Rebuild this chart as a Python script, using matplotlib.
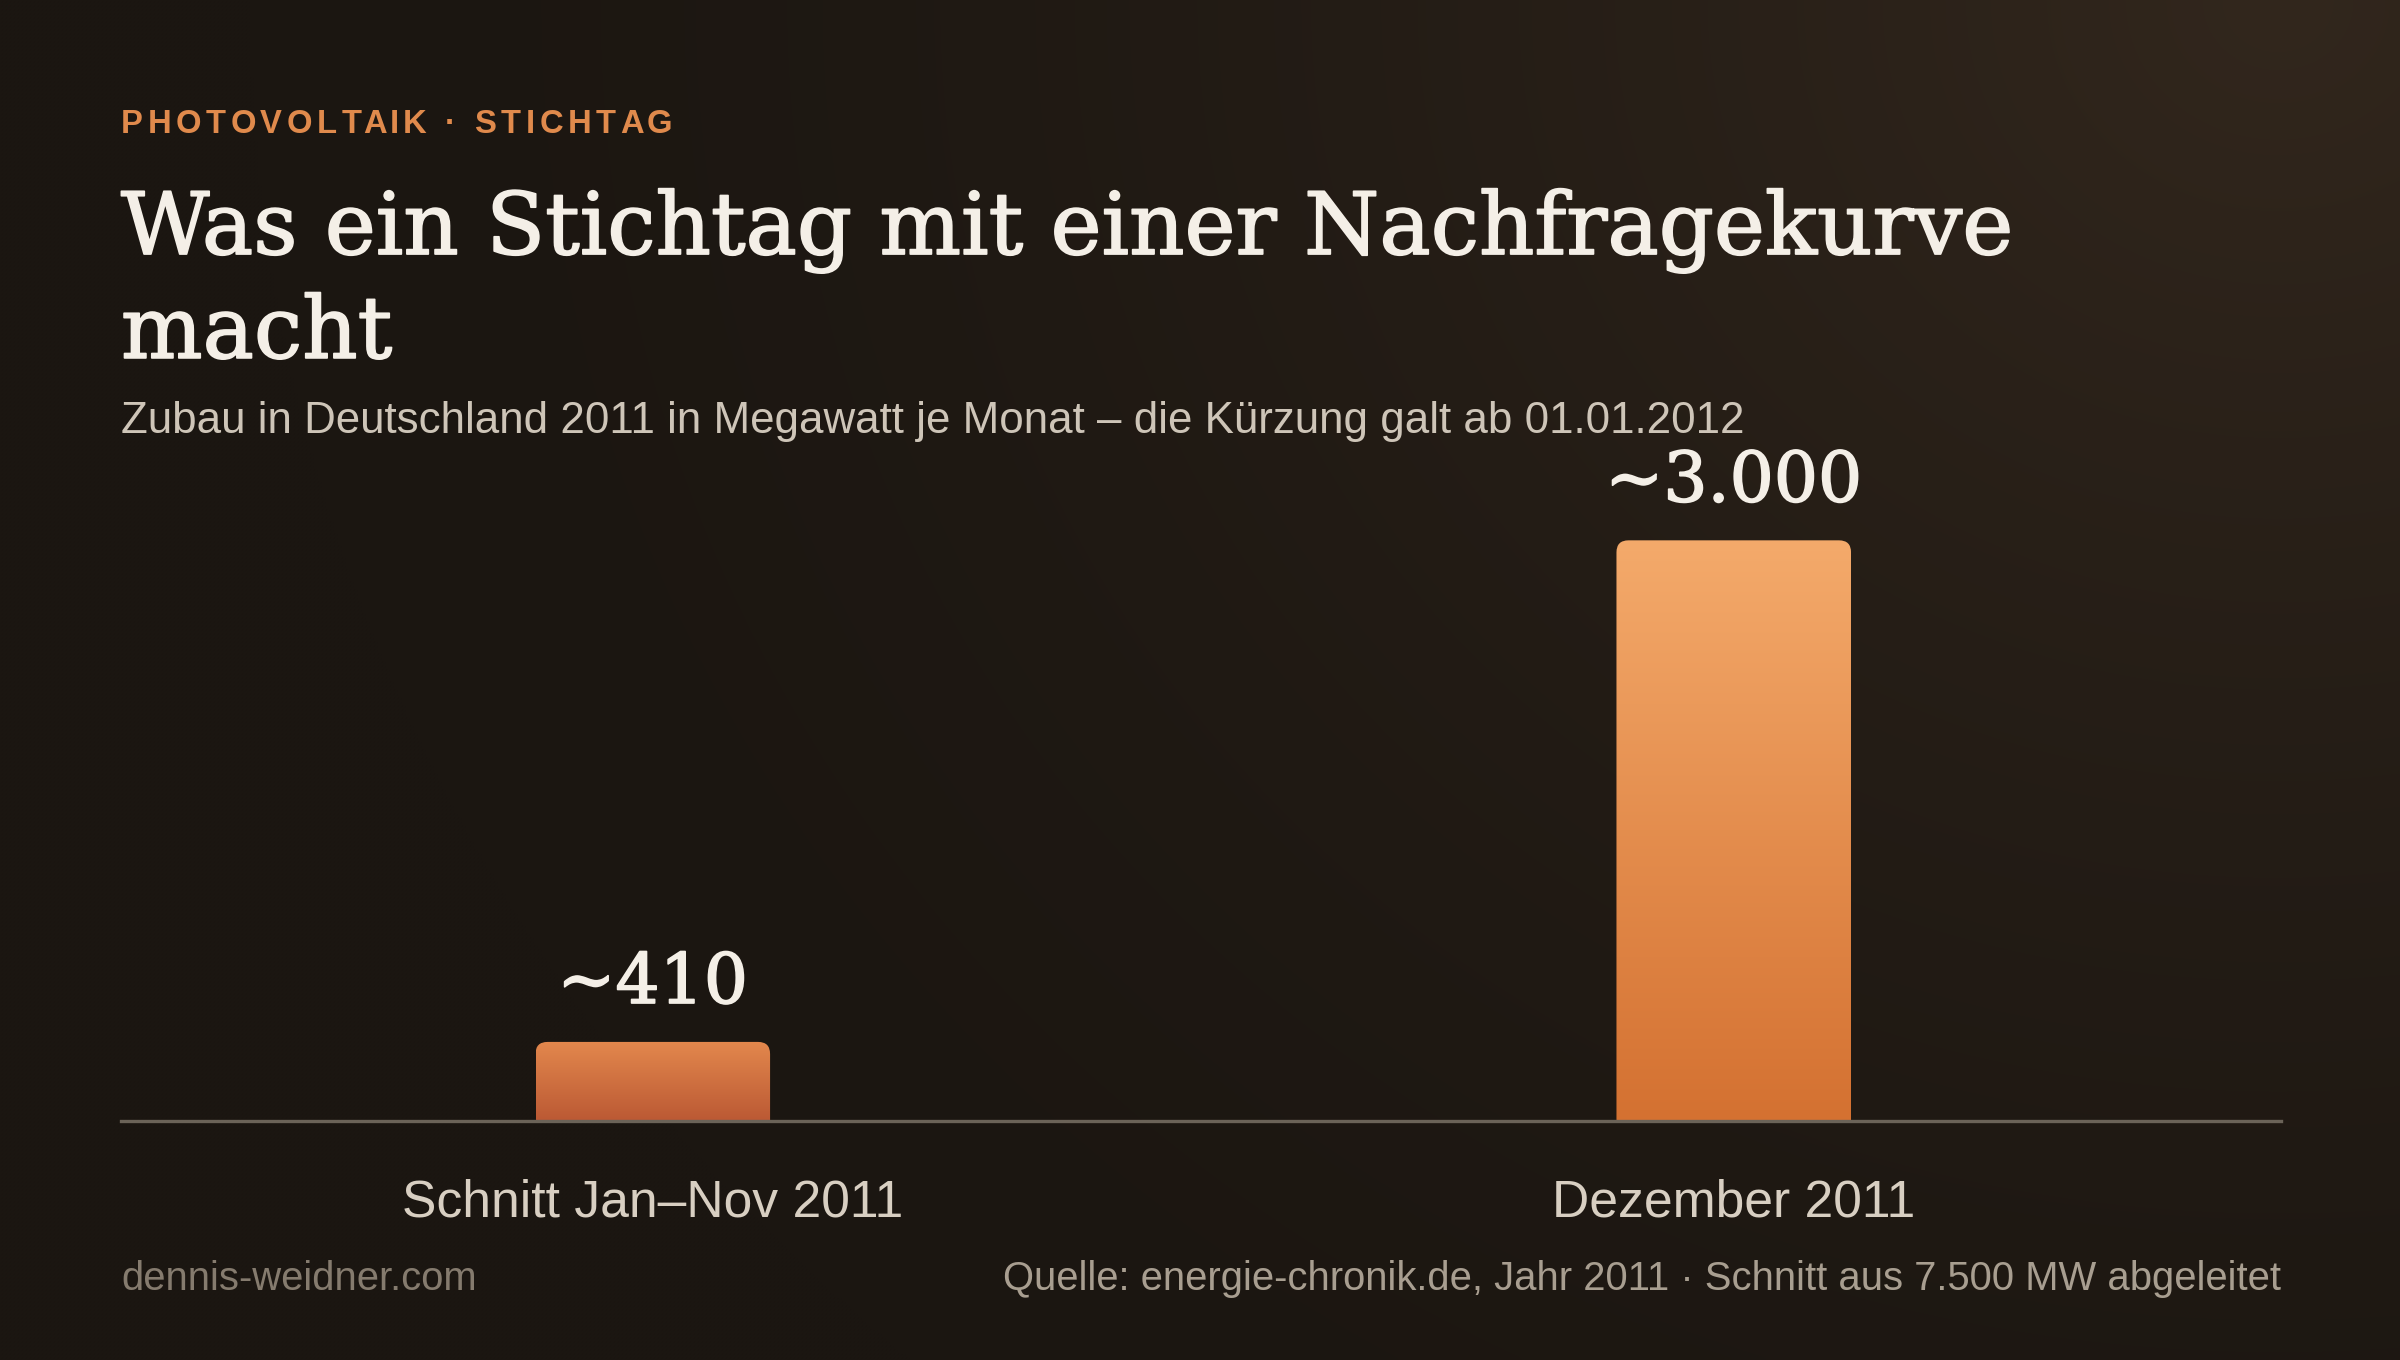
import numpy as np
import matplotlib
matplotlib.use("Agg")
import matplotlib.pyplot as plt
import matplotlib.patheffects as pe
from matplotlib.patches import FancyBboxPatch
from matplotlib.colors import to_rgb

# Daten
kategorien = ["Schnitt Jan–Nov 2011", "Dezember 2011"]
werte = [410, 3000]
wert_labels = ["~410", "~3.000"]

kicker = "PHOTOVOLTAIK · STICHTAG"
titel_zeilen = ["Was ein Stichtag mit einer Nachfragekurve", "macht"]
untertitel = "Zubau in Deutschland 2011 in Megawatt je Monat – die Kürzung galt ab 01.01.2012"
fuss_links = "dennis-weidner.com"
fuss_rechts = "Quelle: energie-chronik.de, Jahr 2011 · Schnitt aus 7.500 MW abgeleitet"

# Farben
bg_dunkel = "#1b1611"
bg_hell = "#32271d"
bar_farben = [("#e3884d", "#bb5934"), ("#f4aa6b", "#d47131")]
hell = "#f4efe7"

SANS = ["Liberation Sans", "DejaVu Sans"]
SERIF = ["DejaVu Serif"]

XLIM = (-0.492, 1.506)
YLIM = (0, 3420)

# etwas kräftigere Serifenschrift (Georgia-Anmutung)
kraeftig = [pe.withStroke(linewidth=0.6, foreground=hell)]

fig = plt.figure(figsize=(12, 6.8), dpi=200)

# Hintergrund mit warmem Verlauf oben rechts
bg = fig.add_axes([0, 0, 1, 1], zorder=-10)
yy, xx = np.mgrid[0:1:340j, 0:1:600j]
d = np.sqrt(((xx - 0.95) * 1.6) ** 2 + ((yy - 0.0) * 1.0) ** 2)
t = np.clip(1 - d / 1.35, 0, 1) ** 1.6
c0, c1 = np.array(to_rgb(bg_dunkel)), np.array(to_rgb(bg_hell))
img = c0[None, None, :] * (1 - t[..., None]) + c1[None, None, :] * t[..., None]
bg.imshow(img, aspect="auto", extent=[0, 1, 0, 1], interpolation="bicubic")
bg.axis("off")

# Diagramm
ax = fig.add_axes([0.0504, 0.1755, 0.8999, 0.487])
ax.patch.set_alpha(0)
x = np.arange(len(werte))
ax.set_xlim(*XLIM)
ax.set_ylim(*YLIM)
bars = ax.bar(x, werte, width=0.217, color="none", edgecolor="none")

for s in ["top", "left", "right"]:
    ax.spines[s].set_visible(False)
ax.spines["bottom"].set_color("#6b6358")
ax.spines["bottom"].set_linewidth(1.2)
ax.spines["bottom"].set_zorder(5)
ax.set_yticks([])
ax.set_xticks(x, kategorien)
ax.tick_params(axis="x", length=0, pad=20.5, labelsize=18.6, labelcolor="#d8cfc2")
for lab in ax.get_xticklabels():
    lab.set_fontfamily(SANS)

fig.canvas.draw()
# Seitenverhältnis Daten->Pixel für runde Ecken
(x0p, y0p), (x1p, y1p) = ax.transData.transform([(0, 0), (1, 1)])
aspekt = (1 / (y1p - y0p)) / (1 / (x1p - x0p))
radius = 12 / (x1p - x0p)

for b, (oben, unten) in zip(bars, bar_farben):
    bx, by, bw, bh = b.get_x(), b.get_y(), b.get_width(), b.get_height()
    rand = radius * aspekt
    patch = FancyBboxPatch((bx, by - rand), bw, bh + rand,
                           boxstyle=f"round,pad=0,rounding_size={radius}",
                           mutation_aspect=aspekt, facecolor="none",
                           edgecolor="none", transform=ax.transData)
    ax.add_patch(patch)
    g = np.linspace(0, 1, 256)[:, None]
    co, cu = np.array(to_rgb(oben)), np.array(to_rgb(unten))
    grad = co[None, None, :] * (1 - g[..., None]) + cu[None, None, :] * g[..., None]
    grad = np.repeat(grad, 2, axis=1)
    im = ax.imshow(grad, extent=[bx, bx + bw, by, by + bh], aspect="auto",
                   interpolation="bilinear", zorder=2)
    im.set_clip_path(patch)

ax.set_xlim(*XLIM)
ax.set_ylim(*YLIM)

for xi, v, lab in zip(x, werte, wert_labels):
    ax.annotate(lab, (xi, v), xytext=(0, 14), textcoords="offset points",
                ha="center", va="baseline", fontsize=25, color=hell,
                family=SERIF, path_effects=kraeftig)

# Kicker mit Sperrung
renderer = fig.canvas.get_renderer()
kx, ky = 0.0504, 0.9021
sperr = 4.6 / 2400  # Figurbruchteil pro Zeichen
mess = fig.text(0, 0, "", fontsize=11.8, fontweight="bold", family=SANS)
for i, ch in enumerate(kicker):
    mess.set_text(kicker[:i] + "|")
    w_pref = mess.get_window_extent(renderer).width
    mess.set_text("|")
    w_bar = mess.get_window_extent(renderer).width
    off = (w_pref - w_bar) / fig.bbox.width if i > 0 else 0
    fig.text(kx + off + i * sperr, ky, ch, fontsize=11.8, fontweight="bold",
             color="#e08a4c", family=SANS, va="baseline", ha="left")
mess.remove()

# Titel
for zeile, yb in zip(titel_zeilen, [0.8132, 0.7368]):
    fig.text(0.0504, yb, zeile, fontsize=31, color=hell, family=SERIF,
             va="baseline", ha="left", path_effects=kraeftig)

fig.text(0.0504, 0.6816, untertitel, fontsize=15.8, color="#cec5b8",
         family=SANS, va="baseline", ha="left")

fig.text(0.0504, 0.0515, fuss_links, fontsize=14.4, color="#857b6e",
         family=SANS, va="baseline", ha="left")
fig.text(0.9503, 0.0515, fuss_rechts, fontsize=14.4, color="#a89e90",
         family=SANS, va="baseline", ha="right")

fig.savefig("out.png", dpi=200, facecolor=bg_dunkel)
